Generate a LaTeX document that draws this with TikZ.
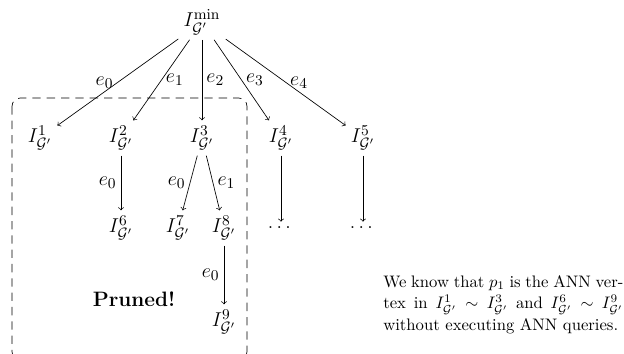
\documentclass[tikz,border=0pt]{standalone}
\usepackage{amsmath}
\begin{document}
\begin{tikzpicture}[x=0.6pt,y=-0.6pt,
  every node/.style={font=\fontsize{12.5}{15}\selectfont},
  vert/.style={inner sep=3pt},
  arr/.style={->},
  lbl/.style={inner sep=2.5pt},
  prunebox/.style={dash pattern=on 5pt off 3.6pt, rounded corners=5pt}]
\clip (0,0) rectangle (624,354);
\node[vert] (r) at (202,22) {$I^{\min}_{\mathcal{G}'}$};
\node[vert] (n1) at (40,138) {$I^{1}_{\mathcal{G}'}$};
\node[vert] (n2) at (121,138) {$I^{2}_{\mathcal{G}'}$};
\node[vert] (n3) at (202,138) {$I^{3}_{\mathcal{G}'}$};
\node[vert] (n4) at (281,138) {$I^{4}_{\mathcal{G}'}$};
\node[vert] (n5) at (363,138) {$I^{5}_{\mathcal{G}'}$};
\node[vert] (n6) at (121,228) {$I^{6}_{\mathcal{G}'}$};
\node[vert] (n7) at (178,228) {$I^{7}_{\mathcal{G}'}$};
\node[vert] (n8) at (224,228) {$I^{8}_{\mathcal{G}'}$};
\node[vert] (n9) at (224,322) {$I^{9}_{\mathcal{G}'}$};
\node[vert] (d4) at (281,228) {$\dots$};
\node[vert] (d5) at (363,228) {$\dots$};
\draw[arr] (r) -- node[midway,left,lbl] {$e_0$} (n1);
\draw[arr] (r) -- node[midway,right,lbl] {$e_1$} (n2);
\draw[arr] (r) -- node[midway,right,lbl] {$e_2$} (n3);
\draw[arr] (r) -- node[midway,right,lbl] {$e_3$} (n4);
\draw[arr] (r) -- node[midway,right,lbl] {$e_4$} (n5);
\draw[arr] (n2) -- node[midway,left,lbl] {$e_0$} (n6);
\draw[arr] (n3) -- node[midway,left,lbl] {$e_0$} (n7);
\draw[arr] (n3) -- node[midway,right,lbl] {$e_1$} (n8);
\draw[arr] (n8) -- node[midway,left,lbl] {$e_0$} (n9);
\draw[arr] (n4) -- (d4);
\draw[arr] (n5) -- (d5);
\node (pr) at (134,299) {\textbf{Pruned!}};
\draw[prunebox] (12,98) rectangle (247,360);
\node[anchor=north west, inner sep=0pt, text width=144pt, align=justify,
  font=\fontsize{10}{12.9}\selectfont] (txt) at (383,275)
 {We know that $p_1$ is the ANN ver-\linebreak tex in $I^1_{\mathcal{G}'}\sim I^3_{\mathcal{G}'}$ and $I^6_{\mathcal{G}'}\sim I^9_{\mathcal{G}'}$\linebreak without executing ANN queries.};
\end{tikzpicture}
\end{document}
